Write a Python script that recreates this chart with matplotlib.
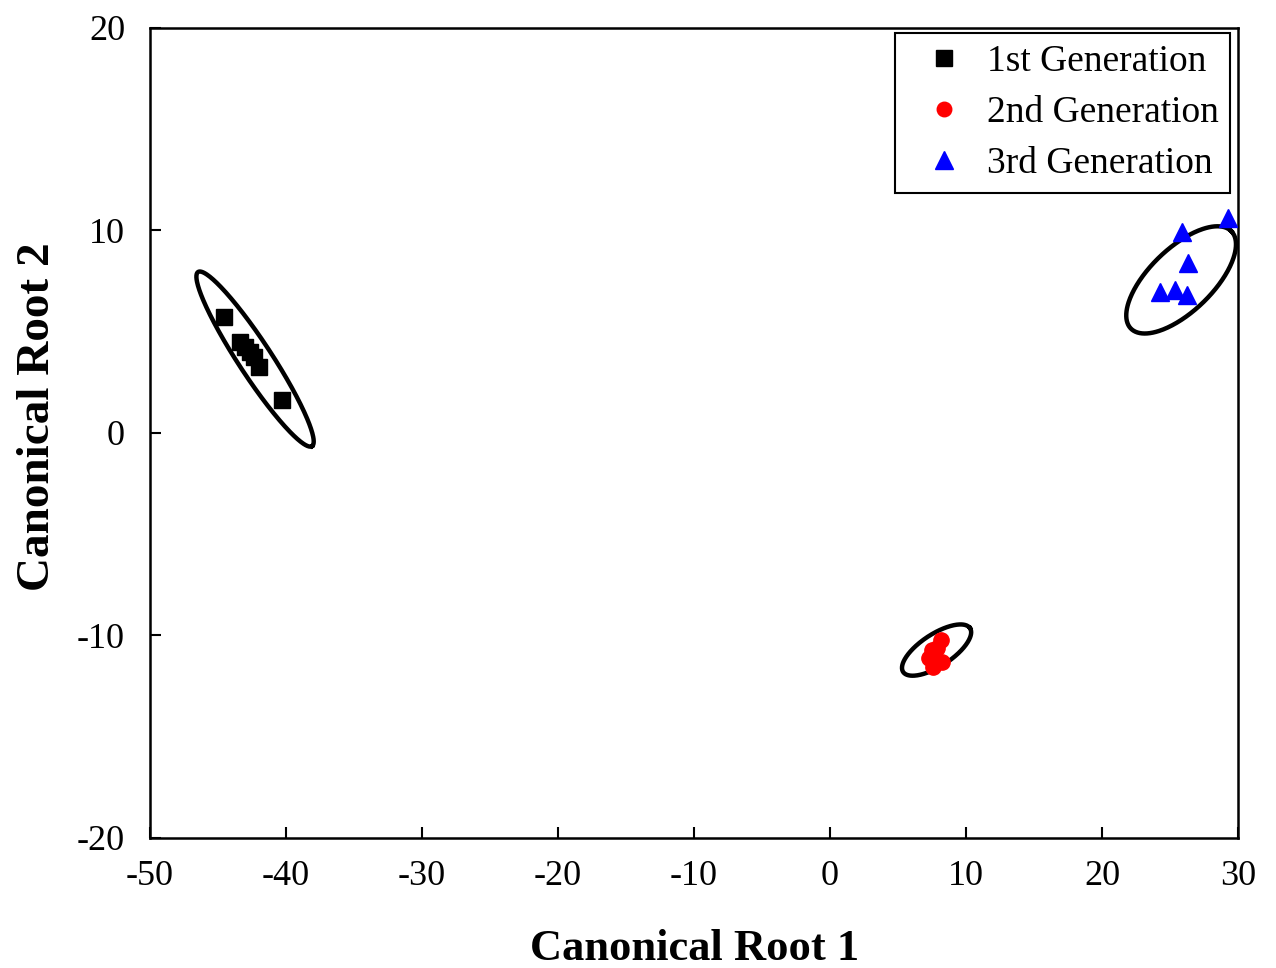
import numpy as np
import matplotlib
matplotlib.use('Agg')
import matplotlib.pyplot as plt

plt.rcParams['font.family'] = ['Liberation Serif', 'DejaVu Serif']
plt.rcParams['axes.unicode_minus'] = False

# Canonical scores for each generation
gen1_x = [-44.56, -43.38, -43.00, -42.65, -42.35, -41.99, -40.29]
gen1_y = [5.73, 4.49, 4.25, 4.00, 3.75, 3.26, 1.63]

gen2_x = [8.16, 7.50, 7.28, 7.79, 7.57, 8.24, 7.87]
gen2_y = [-10.22, -10.72, -11.11, -11.21, -11.56, -11.31, -10.62]

gen3_x = [25.88, 29.26, 26.32, 24.26, 25.37, 26.25]
gen3_y = [9.93, 10.62, 8.40, 6.96, 7.06, 6.81]

# Confidence ellipses: center, half major axis (data units), minor/major ratio
ell_centers = [(-42.28, 3.65), (7.83, -10.72), (25.81, 7.56)]
ell_major = [(4.19, -4.30), (2.46, 1.08), (3.70, 2.40)]
ell_ratio = [0.16, 0.40, 0.45]

labels = ['1st Generation', '2nd Generation', '3rd Generation']

fig = plt.figure(figsize=(12.76, 9.68), dpi=100)
ax = fig.add_axes([0.1176, 0.1343, 0.8527, 0.8368])
ax.set_xlim(-50, 30)
ax.set_ylim(-20, 20)

# pixels per data unit, to keep the ellipse minor axis perpendicular on screen
sx = 0.8527 * 1276 / 80
sy = 0.8368 * 968 / 40

t = np.linspace(0, 2 * np.pi, 300)
for (cx, cy), (ax_, ay_), r in zip(ell_centers, ell_major, ell_ratio):
    bx = -ay_ * sy / sx * r
    by = ax_ * sx / sy * r
    ex = cx + ax_ * np.cos(t) + bx * np.sin(t)
    ey = cy + ay_ * np.cos(t) + by * np.sin(t)
    ax.plot(ex, ey, color='black', lw=3.2, zorder=2)

ax.plot(gen1_x, gen1_y, 's', color='black', ms=12, ls='none', label=labels[0], zorder=3)
ax.plot(gen2_x, gen2_y, 'o', color='red', ms=11, ls='none', label=labels[1], zorder=3)
ax.plot(gen3_x, gen3_y, '^', color='blue', ms=13, ls='none', label=labels[2], zorder=3,
        clip_on=False)

ax.set_xticks(np.arange(-50, 31, 10))
ax.set_yticks(np.arange(-20, 21, 10))
ax.tick_params(direction='in', length=8, width=1.5, labelsize=26)
ax.tick_params(axis='x', pad=16)
ax.tick_params(axis='y', pad=18)
for s in ax.spines.values():
    s.set_linewidth(1.8)

ax.set_xlabel('Canonical Root 1', fontsize=32, fontweight='bold', labelpad=26)
ax.set_ylabel('Canonical Root 2', fontsize=34, fontweight='bold')
ax.yaxis.set_label_coords(-0.084, 0.52)

leg = ax.legend(loc='upper right', fontsize=27, frameon=True, fancybox=False,
                edgecolor='black', borderpad=0.3, handlelength=2.0, handletextpad=0.15,
                labelspacing=0.45, bbox_to_anchor=(0.9926, 0.9938), borderaxespad=0,
                markerscale=0.95)
leg.get_frame().set_linewidth(1.5)
leg.get_frame().set_alpha(1)

fig.savefig('out.png', dpi=100)
